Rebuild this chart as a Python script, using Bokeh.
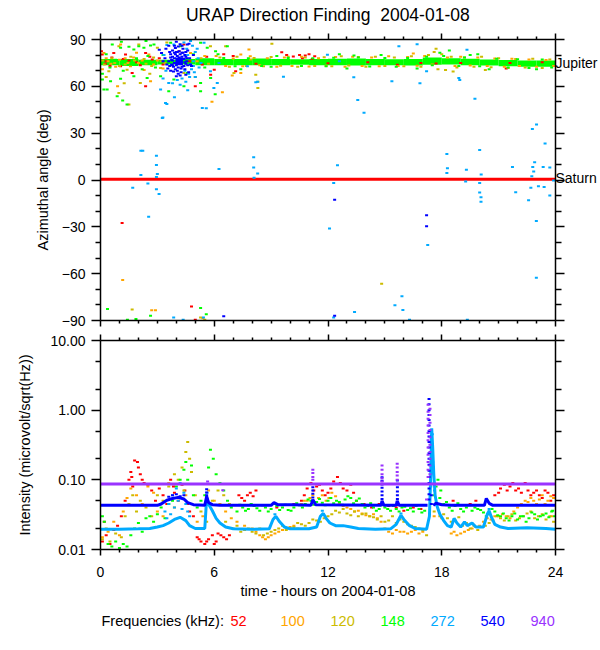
import math
from bokeh.plotting import figure
from bokeh.models import (LinearAxis, LogAxis, FixedTicker, PrintfTickFormatter, Range1d,
                          CustomJSTickFormatter)
from bokeh.core.properties import value
from bokeh.layouts import column
from bokeh.embed import file_html
from bokeh.resources import INLINE

nan = float("nan")
FONT = "Liberation Sans"

# ---------------- colours / frequencies ----------------
freqs = ["52", "100", "120", "148", "272", "540", "940"]
colors = ["#FF0000", "#FFA500", "#CCBB00", "#00FF00", "#00AAFF", "#0000FF", "#9933FF"]

# ---------------- ticks / texts ----------------
hour_ticks = [0, 6, 12, 18, 24]
az_ticks = [-90, -60, -30, 0, 30, 60, 90]
int_ticks = [0.01, 0.1, 1, 10]
int_minor = [0.02, 0.05, 0.2, 0.5, 2, 5]
planet_names = ["Jupiter", "Saturn"]
planet_az = [75, 1]
title_text = "URAP Direction Finding \u00a02004-01-08"

# ---------------- top panel: azimuth (t [h], az [deg]) ----------------
saturn_line = [(0, 0.5), (24, 0.5)]

# dense Jupiter band of 148 kHz (hour blocks: t0, t1, az_lo, az_hi)
band148 = [(0, 1, 73.5, 77.5), (1, 2, 73, 77.5), (2, 3, 73.5, 77), (3, 4, 74, 77), (4, 5, 74, 77.5),
           (5, 6, 73.5, 78), (6, 7, 73.5, 77.5), (7, 8, 73.5, 77.5), (8, 9, 73.5, 77.8), (9, 10, 73.5, 77.5),
           (10, 11, 73.8, 77.3), (11, 12, 73.5, 77.5), (12, 13, 73.5, 77.6), (13, 14, 73.3, 77.8),
           (14, 15, 73.5, 77.5), (15, 16, 73.5, 77.3), (16, 17, 73.3, 77.5), (17, 18, 73.8, 78.5),
           (18, 19, 74, 78), (19, 20, 73.5, 77.6), (20, 21, 73.3, 77.2), (21, 22, 72.8, 76.8),
           (22, 23, 72.5, 76.5), (23, 24, 72.5, 76.5)]
# densest part of the 540 kHz cluster near 4 h
core540 = [(3.95, 4.35, 73.5, 78.5)]

az_52 = [(0.05, 82.5), (0.09, 80.4), (0.3, 76), (0.5, 73), (0.7, 81.4), (1.06, 72.9), (1.32, 80.4),
         (1.67, 68.6), (1.9, 75.5), (2.38, 60), (2.38, 81.4), (2.73, 77.2), (3.1, 78), (3.3, 74),
         (4.14, 82.5), (4.4, 86.8), (4.7, 76), (5.0, 60), (5.37, 74), (5.6, 79), (5.81, 67.5), (6.0, 70.7),
         (6.5, 80.5), (7.0, 79.5), (7.13, 69.7), (8.2, 74.5), (9.56, 81.8), (9.82, 80.1), (10.17, 79.1),
         (10.5, 80), (10.65, 78), (10.8, 79.8), (11.0, 80.5), (11.17, 77.5), (11.3, 79.2), (12.0, 74.8),
         (14.1, 75.5), (15.66, 73.9), (16.9, 75), (17.7, 74.6), (19.0, 75), (21.4, 71.5), (21.6, 75),
         (23.3, 75.5), (1.14, -27.5), (4.8, -81), (5.0, -89.5),
         (0.6, 78.5), (1.5, 76.5), (2.1, 73.5), (2.6, 79), (0.25, 74.5), (1.2, 77.5)]

az_100 = [(0.1, 71), (0.18, 81.4), (0.4, 76), (0.8, 72.5), (0.9, 60), (1.06, 86.8), (1.3, 78), (1.58, 72.9),
          (1.9, 81.5), (2.0, 75), (2.3, 70.5), (2.55, 80.4), (2.64, 63.3), (3.0, 76.5), (3.3, 71.5),
          (4.75, 81.4), (5.1, 76), (5.5, 79.5), (5.88, 50.2), (6.1, 79.5), (6.43, 56.2), (6.6, 73),
          (6.95, 66.9), (7.0, 77.8), (7.4, 80.4), (7.4, 68.6), (7.5, 72.8), (7.83, 83.6), (7.9, 79.3),
          (8.4, 73.5), (8.8, 78), (9.3, 72.6), (9.7, 78.5), (10.1, 73), (10.6, 79), (11.0, 72.7), (11.5, 78),
          (11.9, 73.2), (12.4, 78.8), (12.9, 72.5), (13.3, 79), (13.8, 73), (14.3, 78.5), (14.7, 72.8),
          (15.2, 79.2), (15.7, 73), (16.2, 78.8), (16.5, 81), (16.7, 73.2), (17.1, 79.5), (17.5, 74),
          (18.3, 78.5), (18.7, 73), (19.0, 79), (19.5, 73.3), (19.9, 78.4), (20.4, 73), (20.8, 77.8),
          (21.3, 72.5), (21.7, 77.6), (22.1, 73), (22.6, 77.2), (23.0, 72.6), (23.5, 76.8), (23.9, 73),
          (1.17, -64), (2.7, -83.5), (2.9, -83.5), (5.4, -88.5),
          (0.55, 74.5), (1.0, 77), (1.45, 75), (1.75, 78.5), (2.2, 76.5), (2.8, 74), (0.3, 78)]

az_120 = [(0.2, 74), (0.3, 66), (0.44, 69.7), (0.6, 78), (0.97, 55.8), (0.97, 85.7), (1.0, 73), (1.25, 62),
          (1.4, 70.7), (1.5, 48.3), (1.8, 76.5), (2.02, 86.8), (2.1, 62.2), (2.4, 74.5), (2.6, 68), (2.8, 78.5),
          (3.0, 84.7), (3.17, 71.8), (3.4, 75), (3.5, 88), (4.4, 68.6), (4.8, 73), (5.0, 66), (5.3, 78),
          (5.7, 74.5), (5.8, 85.7), (6.3, 78.5), (6.6, 85.7), (6.8, 72.5), (7.04, 68.6), (7.2, 79), (7.7, 73),
          (7.92, 77.2), (8.1, 78.2), (8.19, 67.5), (8.3, 63), (8.3, 59), (8.6, 72.8), (9.0, 78.8), (9.04, 87.2),
          (9.5, 73.2), (9.9, 79), (10.4, 72.6), (10.8, 78.4), (11.3, 73), (11.8, 78.6), (12.2, 72.8),
          (12.7, 79.2), (13.1, 73.4), (13.6, 78.8), (14.0, 72.5), (14.5, 79), (15.0, 73), (15.5, 78.5),
          (16.0, 72.8), (16.4, 79.3), (16.9, 72.5), (17.3, 80), (17.6, 82), (17.7, 84), (17.8, 71), (18.0, 80.5),
          (18.2, 70.5), (18.5, 79), (18.6, 69.5), (18.8, 72), (19.2, 78.5), (19.7, 72.5), (20.1, 79),
          (20.3, 70.5), (20.6, 72.2), (21.0, 78), (21.5, 71.8), (21.9, 77.5), (22.4, 72), (22.8, 77.6),
          (23.3, 71.8), (23.7, 77.2), (1.67, -83), (5.28, -88), (5.5, -89.5), (14.83, -66.4),
          (0.1, 76.5), (0.75, 75), (1.3, 74), (1.6, 79), (2.3, 77.5), (2.7, 73), (3.2, 76)]

az_148 = [(0.05, 75), (0.1, 68), (0.1, 64.3), (0.18, 57.9), (0.3, 80.5), (0.35, 57.9), (0.5, 72), (0.53, 63.3),
          (0.62, 86.8), (0.8, 77), (0.88, 53.6), (1.06, 84.7), (1.06, 64.8), (1.1, 88.5), (1.17, 51), (1.2, 70),
          (1.4, 48.3), (1.5, 85.3), (1.6, 74), (1.76, 83.6), (1.76, 66.5), (1.9, 78), (2.02, 85.7), (2.2, 71),
          (2.29, 84.7), (2.4, 89), (2.46, 65.4), (2.5, 79.5), (2.64, 86.1), (2.82, 86.8), (2.9, 72),
          (3.17, 66.5), (3.3, 80), (3.6, 56.8), (3.7, 87.9), (3.87, 64.3), (4.22, 85.7), (4.4, 60), (4.58, 68.6),
          (4.9, 80.5), (5.28, 87.9), (5.28, 62.2), (5.28, 56.8), (5.5, 72), (5.63, 84.7), (5.81, 65.4),
          (6.05, 55), (6.07, 82.5), (6.69, 85.7),
          (6.2, 80.5), (6.5, 78.2), (7.1, 72.8), (7.4, 71), (7.8, 78), (8.5, 73), (9.0, 72.6), (9.3, 79.5),
          (9.9, 78.2), (10.6, 73), (11.2, 78), (11.9, 72.8), (12.3, 78.3), (12.6, 80.5), (13.0, 71.5),
          (13.37, 79.7), (13.6, 78.4), (14.2, 72.7), (14.8, 80), (15.0, 78.1), (15.6, 72.6), (16.2, 78.2),
          (16.7, 71.5), (17.2, 79), (17.5, 73.5), (17.9, 81.5), (18.1, 79.5), (18.4, 83), (18.9, 73),
          (19.2, 78.5), (19.5, 80), (19.9, 80.5), (20.0, 72.8), (20.5, 71), (20.9, 77.6), (21.5, 72),
          (22.0, 77.3), (22.6, 71.8), (23.0, 71), (23.3, 77.2), (23.8, 72),
          (0.37, -82.7), (1.42, -89.5), (1.87, -89), (2.64, -87), (5.28, -82), (5.58, -86)]

az_272 = [(2.13, 18.7), (2.23, 18.7), (2.13, 3.2), (2.5, -2.3), (1.7, -5), (2.54, -23.6), (2.95, 15.5),
          (2.95, 9.6), (3.0, 3.8), (2.95, 2), (2.95, -6), (3.09, -9), (3.29, 40), (3.5, 48.7), (3.9, 53),
          (5.58, 46), (6.25, 7), (8.08, 14.5), (8.08, 8), (8.29, 4.2), (8.1, 1.5), (8.29, 63), (9.65, 66.2),
          (11.97, 80.2), (12.6, 76), (13.36, 65.8), (13.57, 51.3), (13.9, 43), (15.37, 63.3), (15.74, 85.7),
          (16.7, 87), (16.85, 62), (17.2, 69.7), (18.9, 65.3), (18.95, 64), (19.33, 83.4), (19.75, 52),
          (12.08, -31), (12.3, -2), (12.5, 9.5), (17.26, -41.6), (18.27, 16.6), (18.3, 7.5), (18.27, 4.5),
          (19.3, 6.5), (19.26, -1), (20.0, 19.2), (20.08, 3.5), (20.0, -2), (20.0, -8), (20.07, -11),
          (20.07, -14), (21.73, 8.3), (21.9, -7.8), (22.58, -12.9), (22.7, -5), (22.75, 2.4), (22.8, 8.3),
          (22.9, 11.3), (22.85, 5.5), (22.78, 32.7), (23.0, 35.5), (22.99, -26.2), (22.99, -62.6),
          (23.45, 23.4), (23.35, 8.3), (23.7, 8), (23.7, -10), (23.4, -4.5), (23.1, -4), (23.9, -0.3),
          (3.86, -88), (4.36, -89.5), (5.43, -88), (12.3, -88), (13.4, -84.5), (15.53, -80.2), (15.9, -74.5),
          (15.95, -83.3), (16.3, -89.5), (19.35, -89.5),
          (3.87, 86.8), (5.46, 87.9), (4.75, 89), (6.16, 62.2), (5.98, 59), (3.6, 62.2), (3.17, 57.9),
          (3.43, 49.4), (3.26, 39.7), (5.37, 46.1), (5.8, 69.7), (6.25, 75), (8.19, 62.6), (7.75, 72.9),
          (4.3, 65), (4.5, 63), (4.65, 68), (4.8, 71), (4.9, 76), (5.0, 82), (5.1, 84), (4.85, 86), (4.4, 88),
          (4.05, 64), (3.8, 62), (4.6, 80), (4.75, 74), (5.2, 72), (5.0, 66), (3.45, 70), (3.35, 80),
          (3.5, 86.5), (4.95, 69), (5.15, 78), (4.2, 61), (4.6, 57.5), (4.7, 66), (4.55, 84), (4.9, 73),
          (5.3, 75), (4.45, 70), (3.3, 65)]

az_540 = [(3.22, 81.4), (3.4, 78), (3.5, 74), (3.45, 84), (3.6, 76), (3.65, 82), (3.7, 70), (3.6, 86),
          (4.58, 86.8), (4.67, 87.2), (4.7, 78), (4.75, 74), (4.8, 73), (4.65, 69), (4.6, 83), (4.0, 66.5),
          (4.2, 67), (4.3, 86), (4.2, 87), (3.9, 86), (4.9, 80), (3.3, 76), (3.1, 83.5), (4.1, 68),
          (3.55, 71.5), (4.5, 67.5), (3.8, 79), (4.0, 88.5),
          (3.7, 78.5), (3.75, 74), (3.8, 83), (3.85, 69.5), (3.95, 84.5), (4.05, 70), (4.15, 82.5),
          (4.25, 69), (4.35, 84), (4.45, 71), (4.5, 79), (4.55, 76), (4.6, 73.5), (3.7, 80.5), (3.65, 73),
          (4.1, 85.5), (4.3, 81.5), (3.8, 76.5), (4.5, 82), (4.0, 82),
          (3.85, 72.5), (3.9, 75), (3.9, 78), (3.95, 80.5), (4.0, 73.5), (4.05, 79.5), (4.1, 72),
          (4.15, 78.5), (4.2, 80.5), (4.3, 72.5), (4.3, 79), (4.4, 77.5), (4.4, 73), (4.45, 80), (3.95, 71),
          (4.05, 82), (4.25, 71.5), (4.35, 81.5), (3.8, 73.5), (4.45, 75.5), (3.9, 81.5), (4.5, 74.5),
          (3.75, 77), (4.55, 78),
          (6.5, -87.2), (12.35, -12.7), (12.35, -87), (17.2, -22.5), (17.2, -29.7)]

# ---------------- bottom panel: intensity (t [h], microvolt/sqrt(Hz)) ----------------
int_52 = [(0.1, 0.013), (0.3, 0.016), (0.5, 0.012), (0.7, 0.019), (0.9, 0.022), (0.2, 0.025), (1.1, 0.03),
          (1.3, 0.05), (1.5, 0.1), (1.6, 0.13), (1.8, 0.19), (1.95, 0.18), (2.1, 0.12), (2.3, 0.09), (1.7, 0.08),
          (2.5, 0.085), (2.7, 0.07), (2.9, 0.05), (3.1, 0.075), (3.3, 0.06), (3.5, 0.045), (3.7, 0.1),
          (3.9, 0.065), (4.1, 0.05), (4.3, 0.085), (4.6, 0.045), (4.9, 0.03), (5.1, 0.015), (5.3, 0.013),
          (5.5, 0.012), (5.7, 0.014), (5.9, 0.016), (6.2, 0.017), (6.5, 0.015), (6.8, 0.016), (6.1, 0.013),
          (4.7, 0.035), (7.3, 0.06), (7.6, 0.05), (7.9, 0.065), (8.2, 0.07), (10.6, 0.05), (10.9, 0.075),
          (11.1, 0.09), (11.4, 0.08), (11.7, 0.07), (12.0, 0.065), (12.3, 0.095), (12.5, 0.11), (12.8, 0.075),
          (13.2, 0.085), (13.5, 0.05), (13.9, 0.045), (14.3, 0.04), (14.7, 0.045), (15.2, 0.042), (15.6, 0.04),
          (16.0, 0.036), (16.5, 0.04), (16.9, 0.038), (17.9, 0.045), (18.6, 0.05), (19.5, 0.045), (19.8, 0.05),
          (20.8, 0.06), (21.1, 0.075), (21.3, 0.085), (21.6, 0.08), (21.9, 0.07), (22.2, 0.065), (22.4, 0.09),
          (22.7, 0.06), (23.0, 0.07), (23.3, 0.055), (23.6, 0.065), (23.9, 0.06), (9.3, 0.04), (10.2, 0.045),
          (10.75, 0.06), (11.25, 0.07), (11.55, 0.085), (11.85, 0.06), (12.15, 0.075), (12.65, 0.09),
          (13.0, 0.07), (13.35, 0.065), (7.45, 0.055), (7.75, 0.06), (8.05, 0.058), (21.0, 0.065),
          (21.45, 0.07), (21.75, 0.09), (22.05, 0.075), (22.55, 0.07), (22.85, 0.065), (23.15, 0.06),
          (23.45, 0.07), (23.75, 0.05), (2.0, 0.15), (2.2, 0.1), (1.65, 0.11), (3.85, 0.08), (4.45, 0.07),
          (5.2, 0.014), (5.6, 0.013), (6.0, 0.012), (6.35, 0.016), (6.65, 0.014)]

int_100 = [(0.1, 0.015), (0.4, 0.018), (0.7, 0.025), (1.0, 0.016), (1.2, 0.035), (1.4, 0.055), (1.6, 0.075),
           (1.9, 0.06), (2.2, 0.045), (2.5, 0.08), (2.8, 0.065), (3.0, 0.035), (3.3, 0.03), (3.6, 0.09),
           (3.9, 0.04), (4.2, 0.055), (4.5, 0.06), (4.8, 0.045), (5.1, 0.025), (5.4, 0.03), (5.7, 0.07),
           (6.0, 0.05), (6.3, 0.045), (6.6, 0.035), (6.9, 0.028), (7.2, 0.025), (7.6, 0.022), (8.0, 0.02),
           (8.4, 0.016), (8.7, 0.014), (9.0, 0.016), (9.4, 0.018), (9.8, 0.02), (10.2, 0.022), (10.6, 0.045),
           (10.9, 0.05), (11.2, 0.06), (11.5, 0.055), (11.9, 0.05), (12.2, 0.065), (12.6, 0.045), (13.0, 0.04),
           (13.4, 0.035), (13.8, 0.033), (14.2, 0.03), (14.6, 0.028), (15.0, 0.02), (15.4, 0.017), (15.8, 0.018),
           (16.2, 0.017), (16.6, 0.019), (17.0, 0.018), (17.6, 0.03), (18.0, 0.028), (18.5, 0.017),
           (18.8, 0.016), (19.2, 0.018), (19.6, 0.02), (20.0, 0.022), (20.4, 0.028), (20.8, 0.03), (21.2, 0.032),
           (21.6, 0.028), (22.0, 0.04), (22.4, 0.05), (22.7, 0.055), (23.0, 0.045), (23.3, 0.06), (23.6, 0.05),
           (23.9, 0.055), (23.8, 0.03),
           (8.2, 0.018), (8.55, 0.015), (8.85, 0.015), (9.2, 0.017), (9.6, 0.019), (10.0, 0.021), (10.4, 0.02),
           (10.75, 0.05), (11.05, 0.055), (11.35, 0.048), (11.7, 0.06), (12.05, 0.055), (12.4, 0.058),
           (12.8, 0.042), (13.2, 0.038), (13.6, 0.036), (14.0, 0.031), (14.4, 0.032), (14.8, 0.025),
           (15.2, 0.018), (15.6, 0.019), (16.0, 0.018), (16.4, 0.018), (16.8, 0.017), (18.65, 0.018),
           (19.0, 0.017), (19.4, 0.019), (19.8, 0.021), (20.2, 0.025), (20.6, 0.027), (21.0, 0.03),
           (21.4, 0.03), (21.8, 0.035), (22.2, 0.045), (22.55, 0.048), (22.85, 0.05), (23.15, 0.052),
           (23.45, 0.045), (23.75, 0.058)]

int_120 = [(0.1, 0.014), (0.3, 0.02), (0.5, 0.013), (0.8, 0.017), (1.1, 0.015), (1.3, 0.03), (1.5, 0.045),
           (1.7, 0.06), (1.9, 0.035), (2.1, 0.05), (2.4, 0.04), (2.7, 0.03), (3.0, 0.06), (3.3, 0.05), (3.6, 0.08),
           (3.9, 0.12), (4.1, 0.1), (4.3, 0.15), (4.5, 0.25), (4.6, 0.35), (4.7, 0.2), (4.8, 0.13), (4.4, 0.07),
           (5.0, 0.06), (5.3, 0.035), (5.6, 0.025), (5.9, 0.05), (6.2, 0.07), (6.5, 0.06), (6.8, 0.045),
           (6.6, 0.025), (7.0, 0.02), (7.4, 0.018), (7.8, 0.02), (8.2, 0.017), (8.6, 0.016), (9.0, 0.018),
           (9.4, 0.02), (9.8, 0.019), (10.2, 0.021), (10.6, 0.023), (11.0, 0.024), (11.4, 0.026), (11.8, 0.028),
           (12.2, 0.032), (12.6, 0.034), (13.0, 0.033), (13.4, 0.035), (13.8, 0.032), (14.2, 0.03), (14.6, 0.027),
           (15.0, 0.025), (15.4, 0.03), (15.8, 0.027), (16.2, 0.023), (16.6, 0.021), (17.0, 0.019), (17.2, 0.016),
           (17.6, 0.035), (17.9, 0.03), (18.3, 0.028), (18.7, 0.026), (19.1, 0.022), (19.5, 0.02), (19.9, 0.019),
           (20.3, 0.022), (20.7, 0.026), (21.1, 0.028), (21.5, 0.03), (21.9, 0.026), (22.3, 0.03), (22.7, 0.035),
           (23.1, 0.03), (23.5, 0.027), (23.9, 0.025), (12.8, 0.038), (13.6, 0.03),
           (7.2, 0.022), (7.6, 0.019), (8.0, 0.018), (8.4, 0.02), (8.8, 0.017), (9.2, 0.019), (9.6, 0.022),
           (10.0, 0.02), (10.4, 0.024), (10.8, 0.022), (11.2, 0.027), (11.6, 0.025), (12.0, 0.03), (12.4, 0.036),
           (13.2, 0.031), (14.0, 0.033), (14.4, 0.029), (14.8, 0.03), (15.2, 0.026), (15.6, 0.024), (16.0, 0.025),
           (16.4, 0.022), (16.8, 0.02), (18.1, 0.032), (18.5, 0.025), (18.9, 0.029), (19.3, 0.024), (19.7, 0.022),
           (20.1, 0.021), (20.5, 0.024), (20.9, 0.03), (21.3, 0.026), (21.7, 0.032), (22.1, 0.028), (22.5, 0.033),
           (22.9, 0.028), (23.3, 0.032), (23.7, 0.03)]

int_148 = [(0.1, 0.03), (0.2, 0.025), (0.4, 0.012), (0.6, 0.011), (0.8, 0.013), (1.0, 0.0105), (1.2, 0.012),
           (1.4, 0.011), (1.6, 0.016), (1.8, 0.02), (2.0, 0.024), (2.2, 0.018), (2.4, 0.028), (2.6, 0.03),
           (2.8, 0.025), (3.0, 0.032), (3.2, 0.04), (3.4, 0.028), (3.6, 0.045), (3.8, 0.05), (4.0, 0.08),
           (4.2, 0.1), (4.4, 0.14), (4.5, 0.18), (4.6, 0.1), (4.8, 0.16), (4.9, 0.06), (5.1, 0.04), (5.3, 0.05),
           (5.5, 0.06), (5.7, 0.15), (5.8, 0.27), (5.95, 0.2), (6.1, 0.12), (6.3, 0.09), (6.5, 0.07), (6.7, 0.05),
           (6.9, 0.04), (7.2, 0.035), (7.5, 0.04), (7.8, 0.038), (8.1, 0.042), (8.4, 0.036), (8.7, 0.04),
           (9.0, 0.038), (9.3, 0.042), (9.6, 0.04), (9.9, 0.037), (10.2, 0.04), (10.5, 0.043), (10.8, 0.045),
           (11.1, 0.05), (11.4, 0.048), (11.7, 0.047), (12.0, 0.05), (12.3, 0.046), (12.6, 0.048), (12.9, 0.052),
           (13.2, 0.055), (13.5, 0.05), (13.8, 0.045), (14.1, 0.042), (14.4, 0.04), (14.7, 0.038), (15.0, 0.04),
           (15.3, 0.036), (15.6, 0.038), (15.9, 0.04), (16.2, 0.037), (16.5, 0.035), (16.8, 0.038), (17.1, 0.036),
           (17.6, 0.06), (17.7, 0.08), (17.8, 0.1), (17.9, 0.055), (18.1, 0.045), (18.4, 0.04), (18.7, 0.042),
           (19.0, 0.038), (19.3, 0.04), (19.6, 0.036), (19.9, 0.038), (20.2, 0.034), (20.5, 0.032), (20.8, 0.035),
           (21.1, 0.03), (21.4, 0.028), (21.7, 0.03), (22.0, 0.027), (22.3, 0.03), (22.6, 0.028), (22.9, 0.032),
           (23.2, 0.03), (23.5, 0.033), (23.8, 0.035), (23.95, 0.03),
           (7.35, 0.044), (7.65, 0.036), (7.95, 0.045), (8.25, 0.039), (8.55, 0.043), (8.85, 0.035),
           (9.15, 0.045), (9.45, 0.037), (9.75, 0.044), (10.05, 0.036), (10.35, 0.046), (10.65, 0.04),
           (10.95, 0.052), (11.25, 0.044), (11.55, 0.053), (11.85, 0.043), (12.15, 0.055), (12.45, 0.05),
           (12.75, 0.044), (13.05, 0.058), (13.35, 0.046), (13.65, 0.054), (13.95, 0.04), (14.25, 0.046),
           (14.55, 0.036), (14.85, 0.043), (15.15, 0.038), (15.45, 0.042), (15.75, 0.035), (16.05, 0.041),
           (16.35, 0.039), (16.65, 0.042), (16.95, 0.034), (17.95, 0.07), (18.25, 0.048), (18.55, 0.036),
           (18.85, 0.046), (19.15, 0.035), (19.45, 0.043), (19.75, 0.04), (20.05, 0.037), (20.35, 0.03),
           (20.65, 0.038), (20.95, 0.031), (21.25, 0.033), (21.55, 0.026), (21.85, 0.033), (22.15, 0.03),
           (22.45, 0.025), (22.75, 0.034), (23.05, 0.027), (23.35, 0.031), (23.65, 0.029), (23.85, 0.036)]

int_272_line = [(0, 0.0195), (1.0, 0.0195), (2.0, 0.0198), (2.6, 0.020), (3.0, 0.021), (3.3, 0.022), (3.6, 0.024),
                (3.9, 0.027), (4.2, 0.029), (4.5, 0.026), (4.7, 0.022), (5.0, 0.020), (5.5, 0.020), (5.6, 0.055),
                (5.7, 0.045), (5.9, 0.036), (6.1, 0.028), (6.3, 0.024), (6.6, 0.021), (7.0, 0.0198), (8.0, 0.0195),
                (8.9, 0.0198), (9.1, 0.027), (9.25, 0.030), (9.45, 0.025), (9.7, 0.021), (10.0, 0.0198),
                (11.0, 0.0198), (11.4, 0.021), (11.6, 0.030), (11.75, 0.033), (11.9, 0.028), (12.1, 0.024),
                (12.4, 0.022), (12.8, 0.022), (13.2, 0.021), (13.6, 0.020), (14.5, 0.0195), (15.3, 0.0198),
                (15.6, 0.023), (15.85, 0.031), (16.0, 0.027), (16.3, 0.022), (16.6, 0.020), (17.2, 0.0195),
                (17.35, 0.03), (17.42, 0.12), (17.47, 0.55), (17.52, 0.3), (17.58, 0.12), (17.65, 0.06),
                (17.75, 0.042), (17.9, 0.032), (18.1, 0.026), (18.3, 0.022), (18.5, 0.021), (18.65, 0.028),
                (18.8, 0.024), (19.0, 0.021), (19.2, 0.025), (19.35, 0.022), (19.6, 0.024), (19.8, 0.021),
                (20.2, 0.021), (20.4, 0.032), (20.5, 0.036), (20.6, 0.03), (20.8, 0.023), (21.1, 0.021),
                (21.5, 0.020), (22.5, 0.0205), (23.5, 0.020), (24, 0.0195)]
int_272_pts = [(3.4, 0.035), (3.6, 0.045), (3.7, 0.032), (3.8, 0.06), (3.9, 0.04), (4.0, 0.075), (4.1, 0.05),
               (4.2, 0.09), (4.3, 0.038), (4.4, 0.065), (4.5, 0.045), (4.6, 0.035), (3.5, 0.028), (4.7, 0.03),
               (5.62, 0.065), (5.65, 0.05), (17.45, 0.4), (17.5, 0.45), (17.48, 0.25), (17.52, 0.18),
               (17.55, 0.15), (17.6, 0.09), (17.62, 0.07), (17.42, 0.08), (11.7, 0.036), (9.2, 0.032),
               (20.5, 0.038), (15.85, 0.033)]

int_540_line = [(0, 0.043), (3.0, 0.043), (3.2, 0.045), (3.5, 0.051), (3.8, 0.054), (4.1, 0.056), (4.4, 0.053),
                (4.6, 0.047), (4.9, 0.044), (5.5, 0.043), (5.6, 0.058), (5.7, 0.047), (5.9, 0.044), (6.3, 0.043),
                (9.0, 0.043), (9.15, 0.047), (9.35, 0.044), (10.2, 0.044), (11.1, 0.043), (11.2, 0.052),
                (11.35, 0.044), (14.8, 0.043), (14.85, 0.05), (14.95, 0.043), (15.6, 0.043), (15.65, 0.05),
                (15.75, 0.043), (17.25, 0.043), (nan, nan), (17.55, 0.043), (17.7, 0.046), (18.0, 0.044),
                (18.5, 0.043), (20.25, 0.043), (20.35, 0.054), (20.5, 0.046), (20.7, 0.043), (24, 0.043)]
int_540_pts = [(5.6, 0.073), (5.6, 0.066), (5.6, 0.06), (5.6, 0.054), (5.6, 0.049),
               (11.2, 0.078), (11.2, 0.07), (11.2, 0.063), (11.2, 0.056), (11.2, 0.05),
               (14.85, 0.109), (14.85, 0.097), (14.85, 0.086), (14.85, 0.077), (14.85, 0.068), (14.85, 0.06),
               (14.85, 0.053), (15.66, 0.098), (15.66, 0.088), (15.66, 0.078), (15.66, 0.068), (15.66, 0.06),
               (15.66, 0.053), (17.33, 1.45), (17.33, 1.22), (17.33, 1.0), (17.33, 0.85), (17.33, 0.72),
               (17.33, 0.6), (17.33, 0.5), (17.33, 0.42), (17.33, 0.35), (17.33, 0.29), (17.33, 0.24),
               (17.33, 0.2), (17.33, 0.165), (17.33, 0.135), (17.33, 0.11), (17.33, 0.09), (17.33, 0.075),
               (17.33, 0.062), (17.33, 0.052), (17.45, 0.045), (17.45, 0.06),
               (3.6, 0.057), (3.8, 0.06), (4.0, 0.062), (4.2, 0.058), (4.4, 0.06)]

int_940_line = [(0, 0.087), (24, 0.087)]
int_940_pts = [(11.2, 0.14), (11.2, 0.125), (11.2, 0.11), (11.2, 0.1),
               (14.85, 0.16), (14.85, 0.14), (14.85, 0.12), (14.85, 0.105), (14.85, 0.095),
               (15.65, 0.17), (15.65, 0.15), (15.65, 0.13), (15.65, 0.115), (15.65, 0.1),
               (17.28, 1.2), (17.28, 0.95), (17.28, 0.75), (17.28, 0.6), (17.28, 0.47), (17.28, 0.37),
               (17.28, 0.29), (17.28, 0.23), (17.28, 0.18), (17.28, 0.14), (17.28, 0.11),
               (17.38, 1.05), (17.38, 0.85), (17.38, 0.66), (17.38, 0.52), (17.38, 0.41), (17.38, 0.32),
               (17.38, 0.25), (17.38, 0.2), (17.38, 0.16), (17.38, 0.12),
               (5.65, 0.095), (6.45, 0.071), (17.2, 0.052)]


def unz(pairs):
    return [p[0] for p in pairs], [p[1] for p in pairs]


EMPTY = "return ''"


def style_axis(ax, major_out, minor_out, labels):
    ax.axis_line_color = "black"
    ax.axis_line_width = 1.5
    ax.major_tick_in = 0
    ax.minor_tick_in = 0
    ax.major_tick_out = major_out
    ax.minor_tick_out = minor_out
    ax.major_tick_line_color = "black"
    ax.minor_tick_line_color = "black"
    ax.major_tick_line_width = 1.5
    ax.minor_tick_line_width = 1.5
    if labels:
        ax.major_label_text_font = FONT
        ax.major_label_text_font_size = "14px"
        ax.major_label_text_color = "black"
        ax.major_label_standoff = 6
    else:
        ax.formatter = CustomJSTickFormatter(code=EMPTY)
        ax.major_label_text_font_size = "1px"
        ax.major_label_standoff = 0
    ax.axis_label_text_font = FONT
    ax.axis_label_text_font_size = "14.5px"
    ax.axis_label_text_font_style = "normal"
    ax.axis_label_text_color = "black"


def hour_ticker():
    return FixedTicker(ticks=hour_ticks, minor_ticks=[h for h in range(1, 24) if h % 6 != 0])


def az_ticker():
    return FixedTicker(ticks=az_ticks, minor_ticks=[a for a in range(-80, 90, 10) if a % 30 != 0])


def dots(p, pairs, color):
    t, v = unz(pairs)
    p.rect(x=t, y=v, width=3, height=2, width_units="screen", height_units="screen",
           fill_color=color, line_color=None)


# ================= top panel =================
p1 = figure(width=600, height=330, x_range=Range1d(0, 24), y_range=Range1d(-90, 90),
            x_axis_location=None, y_axis_location=None, output_backend="svg", toolbar_location=None,
            min_border_left=100, min_border_right=45, min_border_top=39, min_border_bottom=10)
p1.outline_line_color = None
p1.grid.grid_line_color = None

axb1 = LinearAxis(ticker=hour_ticker())
style_axis(axb1, 6, 3, False)
p1.add_layout(axb1, "below")
axt1 = LinearAxis(ticker=hour_ticker(), axis_label=title_text)
style_axis(axt1, 6, 3, False)
axt1.axis_label_text_font_size = "17.5px"
axt1.axis_label_standoff = 9
p1.add_layout(axt1, "above")

ayl = LinearAxis(ticker=az_ticker(), axis_label="Azimuthal angle (deg)")
style_axis(ayl, 9, 5, True)
ayl.axis_label_standoff = 8
p1.add_layout(ayl, "left")
ayr = LinearAxis(ticker=az_ticker())
style_axis(ayr, 9, 6, False)
p1.add_layout(ayr, "right")
# planet names on the right edge
aypl = LinearAxis(ticker=FixedTicker(ticks=planet_az, minor_ticks=[]),
                  formatter=CustomJSTickFormatter(code="return tick > 30 ? '%s' : '%s'" % tuple(planet_names)))
aypl.axis_line_color = None
aypl.major_tick_out = 0
aypl.major_tick_in = 0
aypl.major_label_standoff = -9
aypl.major_label_text_font = FONT
aypl.major_label_text_font_size = "14px"
aypl.major_label_text_color = "black"
p1.add_layout(aypl, "right")

st, sv = unz(saturn_line)
p1.line(st, sv, line_color="#FF0000", line_width=3)

p1.quad(left=[b[0] for b in band148], right=[b[1] for b in band148],
        bottom=[b[2] for b in band148], top=[b[3] for b in band148],
        fill_color=colors[3], line_color=None)
dots(p1, az_52, colors[0])
dots(p1, az_100, colors[1])
dots(p1, az_120, colors[2])
dots(p1, az_148, colors[3])
dots(p1, az_272, colors[4])
p1.quad(left=[b[0] for b in core540], right=[b[1] for b in core540],
        bottom=[b[2] for b in core540], top=[b[3] for b in core540],
        fill_color=colors[5], line_color=None)
dots(p1, az_540, colors[5])

# ================= bottom panel =================
p2 = figure(width=600, height=277, x_range=Range1d(0, 24), y_range=Range1d(0.01, 10), y_axis_type="log",
            x_axis_location=None, y_axis_location=None, output_backend="svg", toolbar_location=None,
            min_border_left=100, min_border_right=45, min_border_top=10, min_border_bottom=58)
p2.outline_line_color = None
p2.grid.grid_line_color = None

axb = LinearAxis(ticker=hour_ticker(), axis_label="time - hours on 2004-01-08")
style_axis(axb, 6, 3, True)
axb.major_label_standoff = 11
axb.axis_label_standoff = 3
p2.add_layout(axb, "below")
axt = LinearAxis(ticker=hour_ticker())
style_axis(axt, 6, 3, False)
p2.add_layout(axt, "above")
ayl2 = LogAxis(ticker=FixedTicker(ticks=int_ticks, minor_ticks=int_minor),
               formatter=PrintfTickFormatter(format="%.2f"), axis_label="Intensity (microvolt/sqrt(Hz))")
style_axis(ayl2, 9, 5, True)
ayl2.axis_label_standoff = 14
p2.add_layout(ayl2, "left")
ayr2 = LogAxis(ticker=FixedTicker(ticks=int_ticks, minor_ticks=int_minor))
style_axis(ayr2, 9, 6, False)
p2.add_layout(ayr2, "right")

dots(p2, int_52, colors[0])
dots(p2, int_100, colors[1])
dots(p2, int_120, colors[2])
dots(p2, int_148, colors[3])
lt, lv = unz(int_272_line)
p2.line(lt, lv, line_color=colors[4], line_width=3)
dots(p2, int_272_pts, colors[4])
lt, lv = unz(int_540_line)
p2.line(lt, lv, line_color=colors[5], line_width=3)
dots(p2, int_540_pts, colors[5])
lt, lv = unz(int_940_line)
p2.line(lt, lv, line_color=colors[6], line_width=3)
dots(p2, int_940_pts, colors[6])

# ================= legend row (own small figure; its frame is aligned with the panels above) =================
p3 = figure(width=600, height=43, x_range=Range1d(100, 555), y_range=Range1d(43, 0),
            x_axis_location=None, y_axis_location=None, output_backend="svg", toolbar_location=None,
            min_border_left=100, min_border_right=45, min_border_top=0, min_border_bottom=0)
p3.outline_line_color = None
p3.grid.grid_line_color = None
leg_x = [101] + [230 + 50 * i for i in range(len(freqs))]
leg_text = ["Frequencies (kHz):"] + freqs
leg_col = ["black"] + colors
p3.text(x=leg_x, y=[13] * len(leg_x), text=leg_text, text_color=leg_col, text_font=value(FONT),
        text_font_size="14.5px", text_align="left", text_baseline="middle")

layout = column(p1, p2, p3)
open("out.html", "w").write(file_html(layout, INLINE))
